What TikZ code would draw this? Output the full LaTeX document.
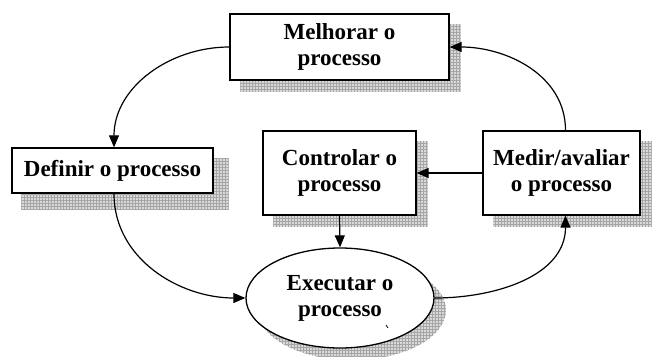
\documentclass[tikz,border=0pt]{standalone}
\usepackage{fontspec}
\setmainfont{Liberation Serif}
\usetikzlibrary{arrows.meta,patterns,backgrounds,shapes.geometric}
\tikzset{
  box/.style={draw=black, line width=1.3pt, fill=white, align=center, inner sep=0pt,
    font=\fontsize{23}{26}\selectfont\bfseries},
  oval/.style={draw=black, line width=1.3pt, fill=white, ellipse, align=center, inner sep=0pt,
    font=\fontsize{23}{26}\selectfont\bfseries},
  shade/.style={fill=gray!30, draw=none},
  shadegrid/.style={pattern=grid, pattern color=gray!70},
  conn/.style={draw=black, line width=1.2pt, -{Triangle[length=12pt,width=10pt]}}
}
\begin{document}
\begin{tikzpicture}[x=1pt,y=-1pt]
\useasboundingbox (0,0) rectangle (652,356);
\node[box, minimum width=219pt, minimum height=66pt] (melh) at (339.5,47) {Melhorar o\\processo};
\node[box, minimum width=201pt, minimum height=45pt] (def) at (112.5,170.5) {Definir o processo};
\node[box, minimum width=153pt, minimum height=84pt] (ctrl) at (339.5,173) {Controlar o\\processo};
\node[box, minimum width=157pt, minimum height=84pt] (med) at (561.5,173) {Medir/avaliar\\o processo};
\node[oval, minimum width=188pt, minimum height=100pt] (exe) at (340,298) {Executar o\\processo};
\begin{scope}[on background layer]
  \foreach \n in {melh,ctrl,med}{
    \fill[shade] ([shift={(11,11)}]\n.north west) rectangle ([shift={(11,11)}]\n.south east);
    \fill[shadegrid] ([shift={(11,11)}]\n.north west) rectangle ([shift={(11,11)}]\n.south east);
  }
  \fill[shade] ([shift={(10,11)}]def.north west) rectangle ([shift={(15,16)}]def.south east);
  \fill[shadegrid] ([shift={(10,11)}]def.north west) rectangle ([shift={(15,16)}]def.south east);
  \fill[shade] ([shift={(12,12)}]exe.center) ellipse (94pt and 50pt);
  \fill[shadegrid] ([shift={(12,12)}]exe.center) ellipse (94pt and 50pt);
\end{scope}
\draw[line width=0.8pt] (386,325) -- (388,328);
\draw[conn] ([xshift=4pt]med.north) to[out=90,in=0] (melh.east);
\draw[conn] (melh.west) to[out=180,in=90] ([xshift=1.5pt]def.north);
\draw[conn] ([xshift=1.5pt]def.south) to[out=-90,in=180] (exe.west);
\draw[conn] (exe.east) to[out=0,in=-90] ([xshift=4pt]med.south);
\draw[conn] (med.west) -- (ctrl.east);
\draw[conn] (ctrl.south) -- (exe.north);
\end{tikzpicture}
\end{document}
